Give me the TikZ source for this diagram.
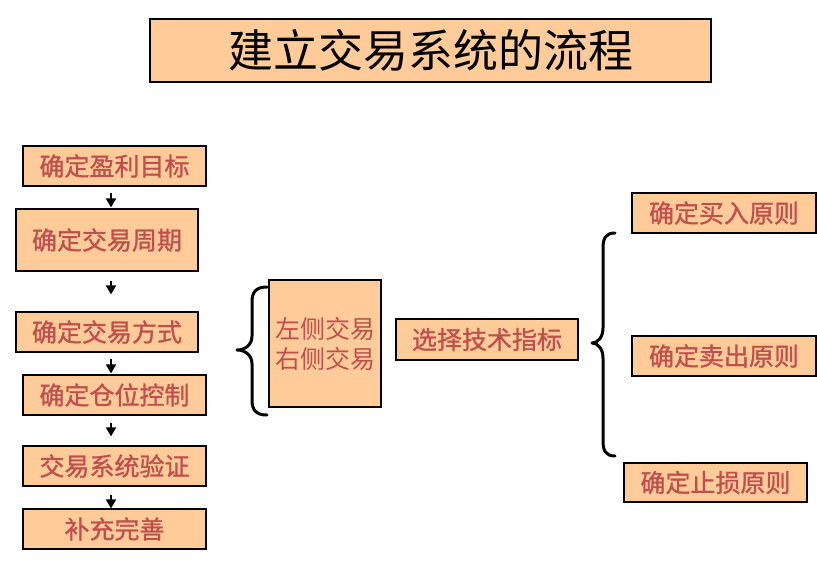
\documentclass[tikz,border=0pt]{standalone}
\usepackage{fontspec}
\newfontfamily\cjk{Noto Sans CJK SC}
\newfontfamily\cjkb[FakeBold=1.2]{Noto Sans CJK SC}
\usetikzlibrary{arrows.meta}
\definecolor{boxfill}{HTML}{FFCC99}
\definecolor{boxtext}{HTML}{C0504D}
\tikzset{
  box/.style={draw=black, line width=1.2pt, fill=boxfill, text=boxtext, inner sep=0pt,
    font=\cjkb\fontsize{25}{30}\selectfont, align=center},
  plainbox/.style={box, font=\cjk\fontsize{25}{30}\selectfont},
  titlebox/.style={draw=black, line width=1.2pt, fill=boxfill, text=black, inner sep=0pt,
    font=\cjk\fontsize{45}{50}\selectfont},
  arr/.style={line width=1.8pt, -{Triangle[width=10pt,length=9pt]}},
  bracestyle/.style={line width=3pt, line cap=round, line join=round}
}
\begin{document}
\begin{tikzpicture}[x=1pt,y=-1pt]
\useasboundingbox[fill=white] (0,0) rectangle (817,571);
\node[titlebox, minimum width=561pt, minimum height=63pt] (title) at (430.5,50.5) {建立交易系统的流程};

\node[box, minimum width=183pt, minimum height=40pt] (b1) at (114.5,166) {确定盈利目标};
\node[box, minimum width=182pt, minimum height=62pt] (b2) at (107,240) {确定交易周期};
\node[box, minimum width=182pt, minimum height=40pt] (b3) at (107,332) {确定交易方式};
\node[box, minimum width=183pt, minimum height=40pt] (b4) at (114.5,395) {确定仓位控制};
\node[box, minimum width=183pt, minimum height=40pt] (b5) at (114.5,466) {交易系统验证};
\node[box, minimum width=183pt, minimum height=40pt] (b6) at (114.5,529) {补充完善};

\coordinate (ax) at (111,0);
\draw[arr, shorten <=6pt, shorten >=1pt] (b1.south -| ax) -- (b2.north -| ax);
\draw[arr, shorten <=9pt, shorten >=17pt] (b2.south -| ax) -- (b3.north -| ax);
\draw[arr, shorten <=6pt, shorten >=1pt] (b3.south -| ax) -- (b4.north -| ax);
\draw[arr, shorten <=7pt, shorten >=9pt] (b4.south -| ax) -- (b5.north -| ax);
\draw[arr, shorten <=8pt, shorten >=0pt] (b5.south -| ax) -- (b6.north -| ax);

\node[plainbox, minimum width=112pt, minimum height=127pt] (lr) at (325,343.5) {左侧交易\\右侧交易};
\node[box, minimum width=182pt, minimum height=41pt] (sel) at (487,339.5) {选择技术指标};

\node[box, minimum width=184pt, minimum height=40pt] (buy) at (724,213) {确定买入原则};
\node[box, minimum width=184pt, minimum height=40pt] (sell) at (724,356) {确定卖出原则};
\node[box, minimum width=183pt, minimum height=39pt] (stop) at (715.5,482.5) {确定止损原则};

% left brace
\draw[bracestyle] (267,287) .. controls (256,287) and (252,292) .. (252,302)
  -- (252,336) .. controls (252,345) and (245,350) .. (237,350)
  .. controls (245,350) and (252,355) .. (252,364)
  -- (252,400) .. controls (252,410) and (256,415) .. (267,415);
% right brace
\draw[bracestyle] (615,233) .. controls (606,233) and (603,238) .. (603,248)
  -- (603,328) .. controls (603,337) and (598,343) .. (592,343)
  .. controls (598,343) and (603,349) .. (603,358)
  -- (603,441) .. controls (603,451) and (606,456) .. (615,456);
\end{tikzpicture}
\end{document}
